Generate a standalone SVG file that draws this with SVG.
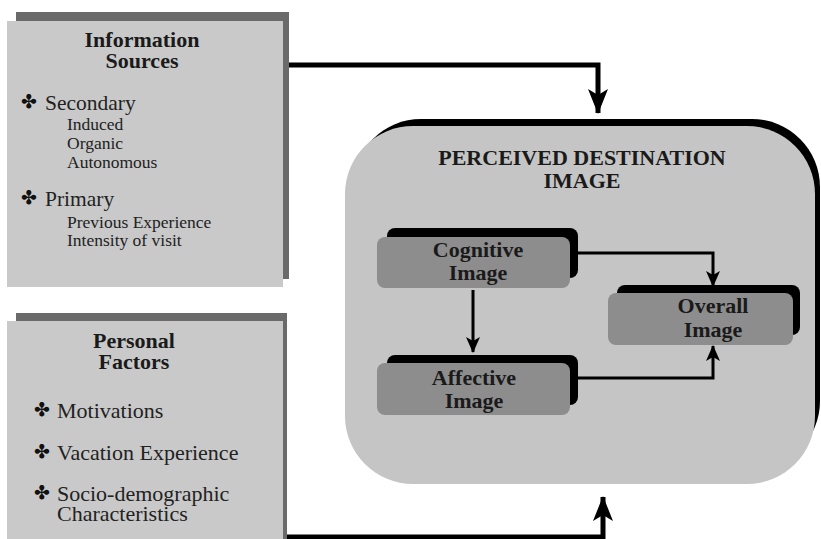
<svg xmlns="http://www.w3.org/2000/svg" width="821" height="539" viewBox="0 0 821 539">
<style>
.panelShadow{fill:#6a6a6a}
.panel{fill:#c9c9c9}
.ttl{font-family:"Liberation Serif",serif;font-weight:bold;font-size:22px;fill:#1a1a1a;text-anchor:middle}
.big{font-family:"Liberation Serif",serif;font-size:21.5px;fill:#222}
.small{font-family:"Liberation Serif",serif;font-size:17.5px;fill:#222}
.pf{font-family:"Liberation Serif",serif;font-size:22px;fill:#222}
.bul{font-family:"DejaVu Sans",sans-serif;font-size:19px;fill:#111}
.innerShadow{fill:#000}
.inner{fill:#8d8d8d}
.thick{stroke:#000;stroke-width:5;fill:none}
.thin{stroke:#000;stroke-width:3;fill:none}
</style>
<defs>
<marker id="bigHead" markerUnits="userSpaceOnUse" viewBox="0 0 25 20" refX="24" refY="10" markerWidth="25" markerHeight="20" orient="auto">
<path d="M0,0 L25,10 L0,20 L6,10 z" fill="#000"/>
</marker>
<marker id="smallHead" markerUnits="userSpaceOnUse" viewBox="0 0 16 14" refX="15" refY="7" markerWidth="16" markerHeight="14" orient="auto">
<path d="M0,0 L16,7 L0,14 L4,7 z" fill="#000"/>
</marker>
</defs>
<rect width="821" height="539" fill="#fff"/>

<g id="information-sources">
<rect class="panelShadow" x="16" y="12" width="273" height="267"/>
<rect class="panel" x="7" y="21" width="276" height="266"/>
<text class="ttl" x="142" y="47">Information</text>
<text class="ttl" x="142" y="68">Sources</text>
<text class="bul" x="21" y="108">✤</text>
<text class="big" x="45" y="110">Secondary</text>
<text class="small" x="67" y="130">Induced</text>
<text class="small" x="67" y="149">Organic</text>
<text class="small" x="67" y="168">Autonomous</text>
<text class="bul" x="21" y="204">✤</text>
<text class="big" x="45" y="206">Primary</text>
<text class="small" x="67" y="228">Previous Experience</text>
<text class="small" x="67" y="246">Intensity of visit</text>
</g>

<g id="personal-factors">
<rect class="panelShadow" x="16" y="313" width="271" height="230"/>
<rect class="panel" x="7" y="321" width="276" height="222"/>
<text class="ttl" x="134" y="348">Personal</text>
<text class="ttl" x="134" y="369">Factors</text>
<text class="bul" x="34" y="416">✤</text>
<text class="pf" x="57" y="418">Motivations</text>
<text class="bul" x="34" y="458">✤</text>
<text class="pf" x="57" y="460">Vacation Experience</text>
<text class="bul" x="34" y="499">✤</text>
<text class="pf" x="57" y="501">Socio-demographic</text>
<text class="pf" x="57" y="521">Characteristics</text>
</g>

<g id="perceived-destination-image">
<rect x="353" y="119" width="467" height="350" rx="68" fill="#000"/>
<rect x="345" y="126" width="470" height="358" rx="68" fill="#c5c5c5"/>
<text class="ttl" x="582" y="165">PERCEIVED DESTINATION</text>
<text class="ttl" x="582" y="188">IMAGE</text>
</g>

<g id="cognitive-image">
<rect class="innerShadow" x="387" y="228" width="191" height="50" rx="8"/>
<rect class="inner" x="377" y="237" width="193" height="51" rx="8"/>
<text class="ttl" x="478" y="257">Cognitive</text>
<text class="ttl" x="478" y="280">Image</text>
</g>

<g id="affective-image">
<rect class="innerShadow" x="387" y="355" width="191" height="50" rx="8"/>
<rect class="inner" x="377" y="363" width="193" height="52" rx="8"/>
<text class="ttl" x="474" y="385">Affective</text>
<text class="ttl" x="474" y="408">Image</text>
</g>

<g id="overall-image">
<rect class="innerShadow" x="617" y="285" width="183" height="50" rx="8"/>
<rect class="inner" x="608" y="293" width="185" height="52" rx="8"/>
<text class="ttl" x="713" y="313">Overall</text>
<text class="ttl" x="713" y="337">Image</text>
</g>

<g id="connectors">
<path class="thick" d="M289,65 H598 V113" marker-end="url(#bigHead)"/>
<path class="thick" d="M287,537 H603 V497" marker-end="url(#bigHead)"/>
<path class="thin" d="M473,290 V352" marker-end="url(#smallHead)"/>
<path class="thin" d="M572,253 H713 V286" marker-end="url(#smallHead)"/>
<path class="thin" d="M573,378 H713 V346" marker-end="url(#smallHead)"/>
</g>
</svg>
